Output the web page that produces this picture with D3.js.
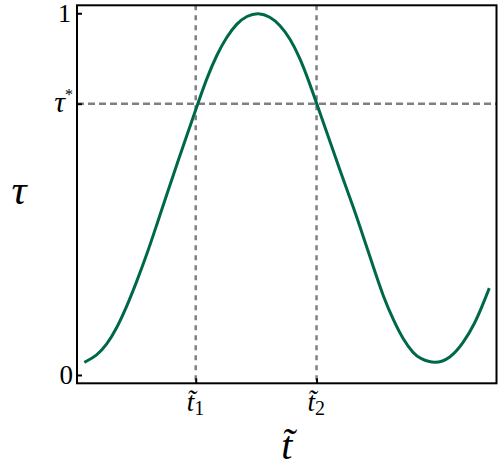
<!DOCTYPE html>
<html>
<head>
<meta charset="utf-8">
<script src="https://cdn.jsdelivr.net/npm/d3@7/dist/d3.min.js"></script>
<style>
  body { margin: 0; background: #fff; }
  svg text { font-family: "Liberation Serif", "DejaVu Serif", serif; }
</style>
</head>
<body>
<div id="chart"></div>
<script>
// curve
var tValues = [1.74, 4.70, 7.08, 9.46, 11.85, 14.23, 16.62, 19.00, 20.98, 23.60, 28.68, 30.92, 33.30, 35.69, 38.07, 40.45, 43.22,
    46.01, 48.39, 50.77, 53.16, 55.14, 57.14, 63.48, 65.86, 68.25, 70.63, 73.02, 75.40, 77.78, 80.17, 81.76, 85.34,
    88.92, 92.09, 94.87, 96.85, 98.28];
var tauValues = [0.035, 0.053, 0.083, 0.129, 0.189, 0.258, 0.332, 0.415, 0.484, 0.576, 0.746, 0.820, 0.885, 0.935, 0.972, 0.993, 1.002,
    0.991, 0.968, 0.931, 0.876, 0.816, 0.751, 0.539, 0.465, 0.382, 0.299, 0.216, 0.152, 0.097, 0.060, 0.045, 0.030,
    0.045, 0.088, 0.143, 0.198, 0.240];
// marked positions
var tMarks = [28.3, 57.1];
var tMarkLabels = ["1", "2"];
var tauStar = 0.75;
var yTicks = [0, tauStar, 1];

var width = 498, height = 473;

var x = d3.scaleLinear().domain([0, 100]).range([77, 496.5]);
var y = d3.scaleLinear().domain([-0.023, 1.022]).range([383.3, 5.3]);

var svg = d3.select("#chart").append("svg")
    .attr("width", width)
    .attr("height", height);

// dashed guides
svg.append("line")
    .attr("x1", x(0)).attr("x2", x(100))
    .attr("y1", y(tauStar)).attr("y2", y(tauStar))
    .attr("stroke", "#808080").attr("stroke-width", 2.5)
    .attr("stroke-dasharray", "7,4");
svg.selectAll(".vguide")
    .data(tMarks)
    .enter().append("line")
    .attr("class", "vguide")
    .attr("x1", function (d) { return x(d); })
    .attr("x2", function (d) { return x(d); })
    .attr("y1", y(1.022)).attr("y2", y(-0.023))
    .attr("stroke", "#808080").attr("stroke-width", 2.5)
    .attr("stroke-dasharray", "5,5");

// the curve
var pts = tValues.map(function (t, i) { return [t, tauValues[i]]; });
var line = d3.line()
    .x(function (d) { return x(d[0]); })
    .y(function (d) { return y(d[1]); })
    .curve(d3.curveBasis);
svg.append("path")
    .datum(pts)
    .attr("d", line)
    .attr("fill", "none")
    .attr("stroke", "#00684a")
    .attr("stroke-width", 3);

// frame
svg.append("rect")
    .attr("x", x(0)).attr("y", y(1.022))
    .attr("width", x(100) - x(0))
    .attr("height", y(-0.023) - y(1.022))
    .attr("fill", "none")
    .attr("stroke", "#000")
    .attr("stroke-width", 2);

// inward ticks
var yAxis = d3.axisLeft(y).tickValues(yTicks).tickSize(-5).tickFormat("");
var gy = svg.append("g").attr("transform", "translate(" + x(0) + ",0)").call(yAxis);
var xAxis = d3.axisBottom(x).tickValues(tMarks).tickSize(-5).tickFormat("");
var gx = svg.append("g").attr("transform", "translate(0," + y(-0.023) + ")").call(xAxis);
[gy, gx].forEach(function (g) {
    g.select(".domain").remove();
    g.selectAll(".tick line").attr("stroke", "#000").attr("stroke-width", 2);
});

// y tick labels
svg.append("text").attr("x", 71).attr("y", y(1) + 9).attr("text-anchor", "end")
    .attr("font-size", 26).text("1");
svg.append("text").attr("x", 73).attr("y", y(0) + 9).attr("text-anchor", "end")
    .attr("font-size", 27).text("0");
var ts = svg.append("text").attr("x", 73).attr("y", y(tauStar) + 8).attr("text-anchor", "end")
    .attr("font-size", 30);
ts.append("tspan").attr("font-style", "italic").text("τ");
ts.append("tspan").attr("font-size", 16).attr("dy", -12).text("*");

// x tick labels
tMarks.forEach(function (t, i) {
    var g = svg.append("text").attr("x", x(t) - 9).attr("y", 411).attr("font-size", 27);
    g.append("tspan").attr("font-style", "italic").text("t\u0303");
    g.append("tspan").attr("font-size", 20).attr("dy", 4).text(tMarkLabels[i]);
});

// axis titles
svg.append("text")
    .attr("x", (x(0) + x(100)) / 2).attr("y", 459)
    .attr("text-anchor", "middle")
    .attr("font-size", 40).attr("font-style", "italic")
    .text("t\u0303");
svg.append("text")
    .attr("x", 19).attr("y", 204)
    .attr("text-anchor", "middle")
    .attr("font-size", 42).attr("font-style", "italic")
    .text("τ");
</script>
</body>
</html>
